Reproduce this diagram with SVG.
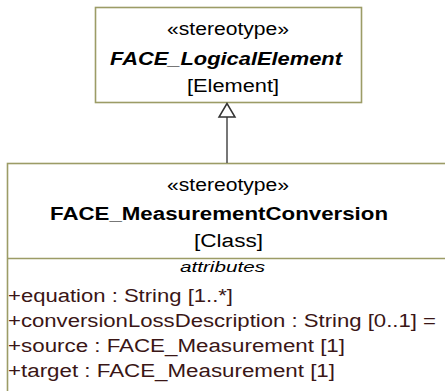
<svg xmlns="http://www.w3.org/2000/svg" width="445" height="391" viewBox="0 0 445 391">
<style>
.box{fill:#fff;stroke:#9c9c66;stroke-width:1.6}
.t{font-family:"Liberation Sans",Arial,sans-serif;font-size:18px;fill:#000}
.b{font-weight:bold}
.i{font-style:italic}
.a{fill:#3a1616}
.s{font-size:15px}
.conn{stroke:#555;stroke-width:1.6;fill:none}
</style>
<rect width="445" height="391" fill="#fff"/>
<g id="FACE_LogicalElement">
<rect class="box" x="95.5" y="7.5" width="266" height="95"/>
<text class="t" x="167" y="35" textLength="122" lengthAdjust="spacingAndGlyphs">«stereotype»</text>
<text class="t b i" x="110" y="65" textLength="232" lengthAdjust="spacingAndGlyphs">FACE_LogicalElement</text>
<text class="t" x="187" y="92" textLength="92" lengthAdjust="spacingAndGlyphs">[Element]</text>
</g>
<g id="FACE_MeasurementConversion">
<rect class="box" x="7.5" y="163.5" width="460" height="250"/>
<line class="box" x1="7.5" y1="258.5" x2="445" y2="258.5"/>
<text class="t" x="167" y="191" textLength="122" lengthAdjust="spacingAndGlyphs">«stereotype»</text>
<text class="t b" x="50" y="220" textLength="338" lengthAdjust="spacingAndGlyphs">FACE_MeasurementConversion</text>
<text class="t" x="194" y="247" textLength="69" lengthAdjust="spacingAndGlyphs">[Class]</text>
<text class="t i s" x="180" y="272" textLength="85" lengthAdjust="spacingAndGlyphs">attributes</text>
<text class="t a" x="8" y="302" textLength="225" lengthAdjust="spacingAndGlyphs">+equation : String [1..*]</text>
<text class="t a" x="8" y="327" textLength="428" lengthAdjust="spacingAndGlyphs">+conversionLossDescription : String [0..1] =</text>
<text class="t a" x="8" y="352" textLength="337" lengthAdjust="spacingAndGlyphs">+source : FACE_Measurement [1]</text>
<text class="t a" x="8" y="377" textLength="327" lengthAdjust="spacingAndGlyphs">+target : FACE_Measurement [1]</text>
</g>
<g id="connectors">
<line class="conn" x1="227" y1="163" x2="227" y2="117"/>
<polygon points="227,103.5 219,117 235,117" fill="#fff" stroke="#333" stroke-width="1.5"/>
</g>
</svg>
